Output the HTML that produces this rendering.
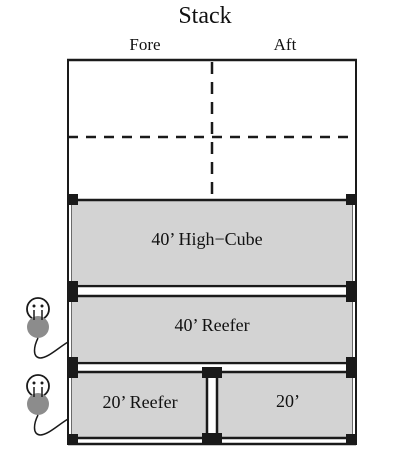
<!DOCTYPE html>
<html><head><meta charset="utf-8"><style>
html,body{margin:0;padding:0;background:#fff;width:401px;height:463px;overflow:hidden}
text{font-family:"Liberation Serif",serif;fill:#111}
</style></head><body>
<svg width="401" height="463" viewBox="0 0 401 463">
<text x="205" y="23" font-size="24" text-anchor="middle">Stack</text>
<text x="145" y="50" font-size="17" text-anchor="middle">Fore</text>
<text x="285" y="50" font-size="17" text-anchor="middle">Aft</text>
<g stroke="#1a1a1a" fill="none">
<line x1="67" y1="60" x2="357" y2="60" stroke-width="2.5"/>
<line x1="68" y1="60" x2="68" y2="445" stroke-width="2"/>
<line x1="356" y1="60" x2="356" y2="445" stroke-width="2"/>
<line x1="72" y1="200" x2="72" y2="445" stroke-width="1.3"/>
<line x1="352" y1="200" x2="352" y2="445" stroke-width="1.3"/>
<line x1="68" y1="137" x2="356" y2="137" stroke-width="2.5" stroke-dasharray="10,8"/>
<line x1="212" y1="62" x2="212" y2="203" stroke-width="2.5" stroke-dasharray="12,8"/>
</g>
<g fill="#d3d3d3">
<rect x="72" y="201" width="280" height="83"/>
<rect x="72" y="297" width="280" height="64"/>
<rect x="72" y="373" width="135" height="64"/>
<rect x="217" y="373" width="135" height="64"/>
</g>
<g stroke="#1a1a1a" stroke-width="2.5">
<line x1="68" y1="200" x2="356" y2="200"/>
<line x1="68" y1="286" x2="356" y2="286"/>
<line x1="68" y1="296" x2="356" y2="296"/>
<line x1="68" y1="363" x2="356" y2="363"/>
<line x1="68" y1="372" x2="356" y2="372"/>
<line x1="68" y1="438" x2="356" y2="438"/>
<line x1="68" y1="444" x2="356" y2="444"/>
<line x1="207" y1="372" x2="207" y2="440"/>
<line x1="217" y1="372" x2="217" y2="440"/>
</g>
<g fill="#1a1a1a">
<rect x="67" y="194" width="11" height="11"/><rect x="346" y="194" width="11" height="11"/>
<rect x="67" y="281" width="11" height="21"/><rect x="346" y="281" width="11" height="21"/>
<rect x="67" y="357" width="11" height="21"/><rect x="346" y="357" width="11" height="21"/>
<rect x="67" y="434" width="11" height="11"/><rect x="346" y="434" width="11" height="11"/>
<rect x="202" y="367" width="20" height="11"/><rect x="202" y="433" width="20" height="12"/>
</g>
<text x="207" y="245" font-size="18" text-anchor="middle">40’ High−Cube</text>
<text x="212" y="331" font-size="18" text-anchor="middle">40’ Reefer</text>
<text x="140" y="408" font-size="18" text-anchor="middle">20’ Reefer</text>
<text x="288" y="407" font-size="18" text-anchor="middle">20’</text>
<g>
<circle cx="38" cy="309" r="11" fill="#fff" stroke="#1a1a1a" stroke-width="1.8"/>
<circle cx="38" cy="327" r="11" fill="#8c8c8c"/>
<line x1="34" y1="310" x2="34" y2="320" stroke="#1a1a1a" stroke-width="1.5"/>
<line x1="42" y1="310" x2="42" y2="320" stroke="#1a1a1a" stroke-width="1.5"/>
<circle cx="34" cy="306" r="1.5" fill="#1a1a1a"/><circle cx="42" cy="306" r="1.5" fill="#1a1a1a"/>
<path d="M38 338 C34 346,32 357,40 358 C48 358,58 348,68 342" fill="none" stroke="#1a1a1a" stroke-width="1.5"/>
</g>
<g>
<circle cx="38" cy="386" r="11" fill="#fff" stroke="#1a1a1a" stroke-width="1.8"/>
<circle cx="38" cy="404" r="11" fill="#8c8c8c"/>
<line x1="34" y1="387" x2="34" y2="397" stroke="#1a1a1a" stroke-width="1.5"/>
<line x1="42" y1="387" x2="42" y2="397" stroke="#1a1a1a" stroke-width="1.5"/>
<circle cx="34" cy="383" r="1.5" fill="#1a1a1a"/><circle cx="42" cy="383" r="1.5" fill="#1a1a1a"/>
<path d="M38 415 C34 423,32 434,40 435 C48 435,58 425,68 419" fill="none" stroke="#1a1a1a" stroke-width="1.5"/>
</g>
</svg>
</body></html>
